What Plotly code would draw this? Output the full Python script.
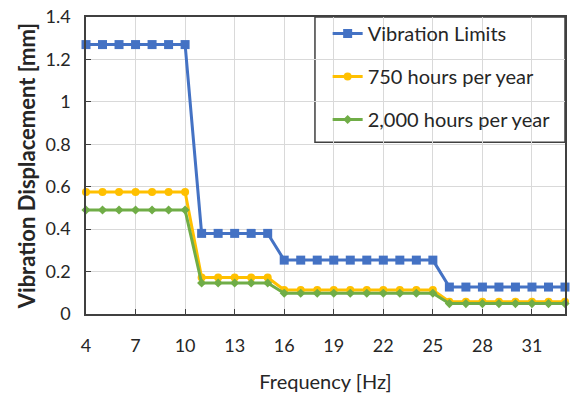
import plotly.graph_objects as go

freq = list(range(4, 34))
limits = [1.27]*7 + [0.38]*5 + [0.254]*10 + [0.127]*8
h750 = [0.575]*7 + [0.172]*5 + [0.113]*10 + [0.058]*8
h2000 = [0.49]*7 + [0.146]*5 + [0.098]*10 + [0.049]*8
x_ticks = list(range(4, 34, 3))
y_ticks = [0, 0.2, 0.4, 0.6, 0.8, 1, 1.2, 1.4]

FONT = "Lato"
fig = go.Figure()
series = [
    ("Vibration Limits", limits, "#4472C4", "square", 9),
    ("750 hours per year", h750, "#FFC000", "circle", 8),
    ("2,000 hours per year", h2000, "#70AD47", "diamond", 7),
]
for i, (name, vals, col, sym, sz) in enumerate(series):
    fig.add_trace(go.Scatter(
        x=freq, y=vals, name=name, mode="lines+markers",
        line=dict(color=col, width=3),
        marker=dict(color=col, symbol=sym, size=sz),
        cliponaxis=False, legendgroup=str(i),
    ))

fig.add_shape(type="rect", xref="paper", yref="paper",
              x0=0.478, x1=1, y0=0.578, y1=1,
              line=dict(color="#404040", width=1.5), fillcolor="white", layer="below")

fig.update_layout(
    width=572, height=396,
    margin=dict(l=86, r=5, t=13, b=82),
    paper_bgcolor="white", plot_bgcolor="rgba(0,0,0,0)",
    font=dict(family=FONT, size=18, color="#262626"),
    showlegend=True,
    legend=dict(x=0.5045, y=1.01, xanchor="left", yanchor="top",
                bgcolor="rgba(0,0,0,0)", borderwidth=0,
                traceorder="grouped", tracegroupgap=14,
                font=dict(family=FONT, size=20, color="#262626")),
    xaxis=dict(range=[4, 33], tickmode="array", tickvals=x_ticks,
               showgrid=True, gridcolor="#D9D9D9", gridwidth=1,
               showline=True, linecolor="#404040", linewidth=1.5, mirror=True,
               ticks="inside", ticklen=5, tickcolor="#404040",
               zeroline=False, ticklabelstandoff=15,
               title=dict(text="Frequency [Hz]", font=dict(size=20), standoff=20)),
    yaxis=dict(range=[0, 1.4], tickmode="array", tickvals=y_ticks,
               showgrid=True, gridcolor="#D9D9D9", gridwidth=1,
               showline=True, linecolor="#404040", linewidth=1.5, mirror=True,
               ticks="inside", ticklen=5, tickcolor="#404040",
               zeroline=False, ticklabelstandoff=10,
               title=dict(text="<b>Vibration Displacement [mm]</b>", font=dict(size=22), standoff=4)),
)
fig.write_html("out.html")
